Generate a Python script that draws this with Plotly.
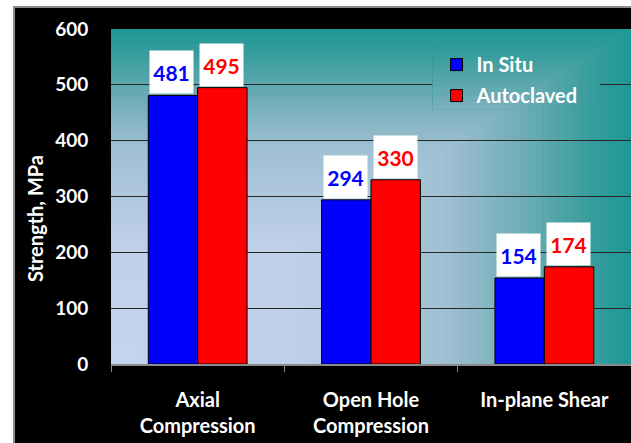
import plotly.graph_objects as go

# ---- data ----
categories = ["Axial<br>Compression", "Open Hole<br>Compression", "In-plane Shear"]
in_situ = [481, 294, 154]
autoclaved = [495, 330, 174]
series_names = ["In Situ", "Autoclaved"]
series_colors = ["#0000FF", "#FF0000"]
y_tick_vals = [0, 100, 200, 300, 400, 500, 600]
y_title = "Strength, MPa"

FONT = "Lato"

fig = go.Figure()
for name, vals, col, grp in [(series_names[0], in_situ, series_colors[0], "a"),
                             (series_names[1], autoclaved, series_colors[1], "b")]:
    fig.add_trace(go.Bar(
        name=name, x=categories, y=vals, legendgroup=grp,
        marker=dict(color=col, line=dict(color="black", width=1)),
    ))

# value labels in white boxes
anns = []
for vals, col, shift in [(in_situ, series_colors[0], -26), (autoclaved, series_colors[1], 24)]:
    for c, v in zip(categories, vals):
        anns.append(dict(
            x=c, y=v, xref="x", yref="y", xshift=shift, yshift=1,
            yanchor="bottom", xanchor="center", showarrow=False,
            text=str(v), bgcolor="white", width=43, height=42, borderpad=0,
            valign="middle",
            font=dict(family=FONT, size=21, color=col, weight="bold"),
        ))
# y axis title
anns.append(dict(x=-0.146, y=0.433, xref="paper", yref="paper", text=y_title,
                 textangle=-90, showarrow=False, xanchor="center", yanchor="middle",
                 font=dict(family=FONT, size=20, color="white", weight="bold")))

# ---- background gradient (decoration) ----
stops = [(0.0, (197, 212, 238)), (0.35, (192, 208, 235)), (0.65, (160, 192, 210)),
         (0.8, (110, 172, 182)), (0.92, (60, 158, 158)), (1.0, (32, 152, 150))]


def grad(t):
    for (t0, c0), (t1, c1) in zip(stops[:-1], stops[1:]):
        if t <= t1:
            f = (t - t0) / (t1 - t0) if t1 > t0 else 0
            return "rgb(%d,%d,%d)" % tuple(round(a + (b - a) * f) for a, b in zip(c0, c1))
    return "rgb(%d,%d,%d)" % stops[-1][1]


shapes = []
# black frame with gray border
shapes.append(dict(type="rect", xref="paper", yref="paper", x0=-0.1865, x1=1.05,
                   y0=-0.26, y1=1.0657, fillcolor="black",
                   line=dict(color="#8a8a8a", width=2), layer="below"))
N = 70
for k in range(N, 0, -1):
    s = k / N
    shapes.append(dict(type="rect", xref="paper", yref="paper", x0=0, y0=0, x1=s, y1=s,
                       fillcolor=grad(s), line=dict(width=0), layer="below"))
# redraw gradient over legend area (legend box hides gridlines)
lx0, lx1, ly0, ly1 = 0.619, 0.94, 0.76, 0.95
for k in range(N, 0, -1):
    s = k / N
    x1 = min(s, lx1)
    y1 = min(s, ly1)
    if x1 <= lx0 or y1 <= ly0:
        continue
    shapes.append(dict(type="rect", xref="paper", yref="paper", x0=lx0, y0=ly0, x1=x1, y1=y1,
                       fillcolor=grad(s), line=dict(width=0), layer="above"))

fig.update_layout(
    width=631, height=443,
    margin=dict(l=111, r=0, t=29, b=79, autoexpand=False),
    paper_bgcolor="white", plot_bgcolor="rgba(0,0,0,0)",
    barmode="group", bargap=0.43, bargroupgap=0,
    shapes=shapes, annotations=anns,
    showlegend=True,
    legend=dict(x=0.626, y=0.952, xanchor="left", yanchor="top",
                bgcolor="rgba(0,0,0,0)", tracegroupgap=2,
                font=dict(family=FONT, size=20, color="white", weight="bold")),
    xaxis=dict(
        showline=True, linecolor="#8a8a8a", linewidth=1.5, automargin=False,
        ticks="outside", tickson="boundaries", ticklen=6, tickcolor="#8a8a8a",
        tickfont=dict(family=FONT, size=20, color="white", weight="bold"),
        ticklabelstandoff=17, showgrid=False,
    ),
    yaxis=dict(
        range=[0, 600], tickvals=y_tick_vals, showline=False, automargin=False,
        ticks="outside", ticklen=18, tickcolor="black",
        tickfont=dict(family=FONT, size=19, color="white", weight="bold"),
        showgrid=True, gridcolor="#262626", gridwidth=1.3, zeroline=False,
    ),
)

fig.write_html("out.html", config={"displayModeBar": False},
               post_script="document.body.style.margin='0px';")
